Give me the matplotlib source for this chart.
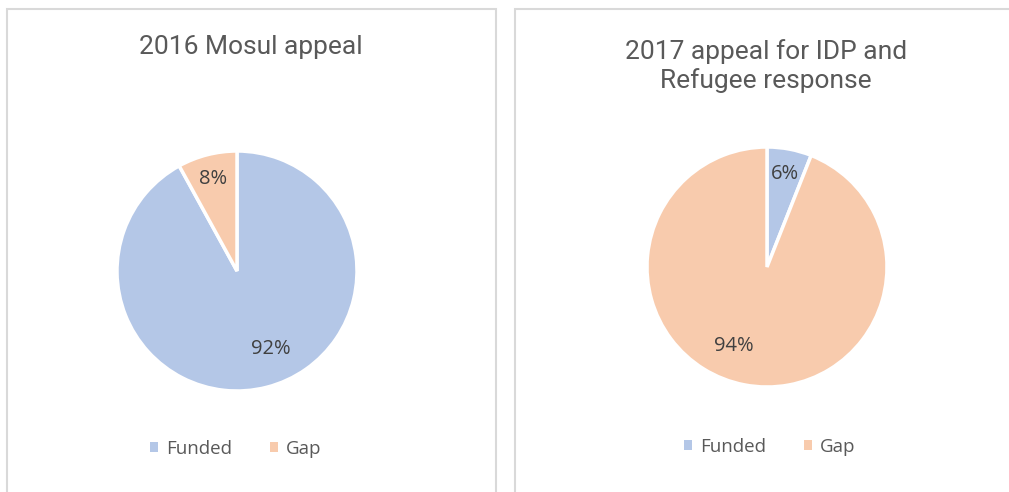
import numpy as np
import matplotlib
matplotlib.use("Agg")
import matplotlib.pyplot as plt
from matplotlib.patches import Rectangle

categories = ["Funded", "Gap"]
titles = ["2016 Mosul appeal", "2017 appeal for IDP and\nRefugee response"]
values_2016 = [92, 8]
values_2017 = [6, 94]
colors = ["#B4C7E7", "#F8CBAD"]

W, H = 1009, 492
fig = plt.figure(figsize=(W / 100, H / 100), dpi=100)
fig.patch.set_facecolor("white")

def fx(px):
    return px / W

def fy(py):
    return 1 - py / H

# panel borders
for (x0, x1) in [(7, 496), (515, 1020)]:
    fig.patches.append(Rectangle((fx(x0), fy(500)), fx(x1 - x0), (500 - 9) / H,
                                 transform=fig.transFigure, fill=False,
                                 edgecolor="#D9D9D9", linewidth=1.5, zorder=0))

panels = [
    dict(vals=values_2016, title=titles[0], cx=237, cy=271, tx=251, ty=47, ly=449, lx=236),
    dict(vals=values_2017, title=titles[1], cx=767, cy=267, tx=766, ty=66, ly=447, lx=770),
]

R = 120
for p in panels:
    ax = fig.add_axes([fx(p["cx"] - R), fy(p["cy"] + R), fx(2 * R), 2 * R / H])
    wedges, _ = ax.pie(p["vals"], colors=colors, startangle=90, counterclock=False,
                       wedgeprops=dict(edgecolor="white", linewidth=2.5))
    ax.set_xlim(-1, 1)
    ax.set_ylim(-1, 1)
    ax.set_aspect("equal")
    ax.axis("off")
    for w, v in zip(wedges, p["vals"]):
        ang = np.deg2rad((w.theta1 + w.theta2) / 2)
        r = 0.79 if v < 50 else 0.71
        if v >= 50:
            # Excel shifts the big slice's label slightly
            ang = ang + (np.deg2rad(9) if p["vals"][0] >= 50 else -np.deg2rad(12))
        ax.text(r * np.cos(ang), r * np.sin(ang), f"{v}%", ha="center", va="center",
                fontsize=14.5, color="#404040", family="Open Sans")
    fig.text(fx(p["tx"]), fy(p["ty"]), p["title"], ha="center", va="center",
             fontsize=19, color="#595959", family="Roboto", linespacing=1.25)
    handles = [Rectangle((0, 0), 1, 1, facecolor=c, edgecolor="none") for c in colors]
    fig.legend(handles, categories, loc="center", bbox_to_anchor=(fx(p["lx"]), fy(p["ly"])),
               ncol=2, frameon=False, handlelength=0.42, handleheight=0.42,
               handletextpad=0.45, columnspacing=2.0,
               prop=dict(family="Open Sans", size=13.5), labelcolor="#595959")

fig.savefig("out.png", dpi=100, facecolor="white")
